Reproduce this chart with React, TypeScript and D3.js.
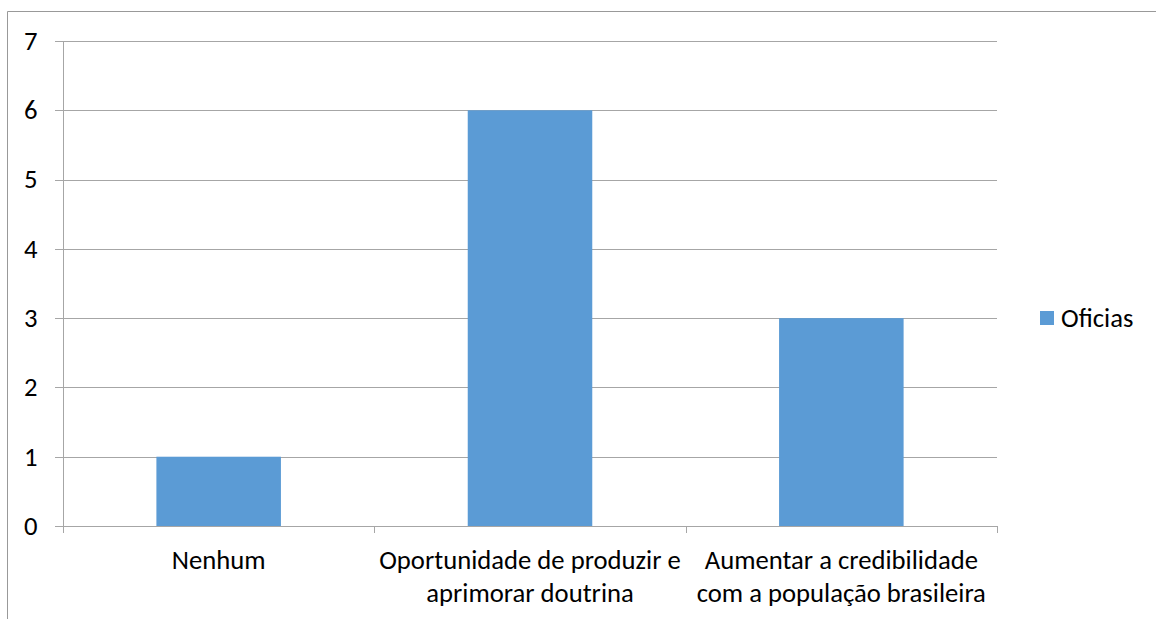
import React from "react";
import * as d3 from "d3";

const categories: string[][] = [
  ["Nenhum"],
  ["Oportunidade de produzir e", "aprimorar doutrina"],
  ["Aumentar a credibilidade", "com a população brasileira"],
];
const seriesName = "Oficias";
const values = [1, 6, 3];
const yTicks = [0, 1, 2, 3, 4, 5, 6, 7];

const W = 1156;
const H = 619;
const left = 63;
const right = 997;
const top = 41;
const bottom = 526;
const FS = 26.67;
const FONT = "Carlito, Calibri, 'Open Sans', 'Liberation Sans', sans-serif";

export default function App() {
  const x = d3
    .scaleBand<number>()
    .domain(values.map((_, i) => i))
    .range([left, right])
    .padding(0);
  const y = d3.scaleLinear().domain([0, 7]).range([bottom, top]);
  const bw = x.bandwidth() * 0.4;
  const grid = "#a6a6a6";
  const ticksX = [...values.map((_, i) => x(i)!), right];

  return (
    <svg
      width={W}
      height={H}
      style={{ position: "absolute", left: 0, top: 0 }}
      fontFamily={FONT}
    >
      <rect x={0} y={0} width={W} height={H} fill="#fff" />
      <line x1={7.5} y1={11.5} x2={W} y2={11.5} stroke="#999" strokeWidth={1} />
      <line x1={7.5} y1={11.5} x2={7.5} y2={H} stroke="#999" strokeWidth={1} />
      {yTicks.map((t) => (
        <g key={t}>
          <line
            x1={55}
            x2={right}
            y1={Math.round(y(t)) + 0.5}
            y2={Math.round(y(t)) + 0.5}
            stroke={grid}
            strokeWidth={1}
          />
          <text
            x={37.5}
            y={y(t)}
            dy="0.33em"
            textAnchor="end"
            fontSize={FS}
            fill="#000"
          >
            {t}
          </text>
        </g>
      ))}
      <line x1={left + 0.5} x2={left + 0.5} y1={top} y2={bottom + 7} stroke={grid} />
      {ticksX.map((tx, i) => (
        <line
          key={i}
          x1={Math.round(tx) + 0.5}
          x2={Math.round(tx) + 0.5}
          y1={bottom}
          y2={bottom + 7}
          stroke={grid}
        />
      ))}
      {values.map((v, i) => {
        const cx = x(i)! + x.bandwidth() / 2;
        return (
          <rect
            key={i}
            x={cx - bw / 2}
            y={y(v)}
            width={bw}
            height={y(0) - y(v)}
            fill="#5b9bd5"
          />
        );
      })}
      {categories.map((lines, i) => {
        const cx = x(i)! + x.bandwidth() / 2;
        return (
          <text key={i} textAnchor="middle" fontSize={FS} fill="#000">
            {lines.map((l, j) => (
              <tspan key={j} x={cx} y={569 + j * 32.6}>
                {l}
              </tspan>
            ))}
          </text>
        );
      })}
      <rect x={1040} y={311} width={14} height={14} fill="#5b9bd5" />
      <text x={1061} y={318} dy="0.33em" fontSize={FS} fill="#000">
        {seriesName}
      </text>
    </svg>
  );
}
